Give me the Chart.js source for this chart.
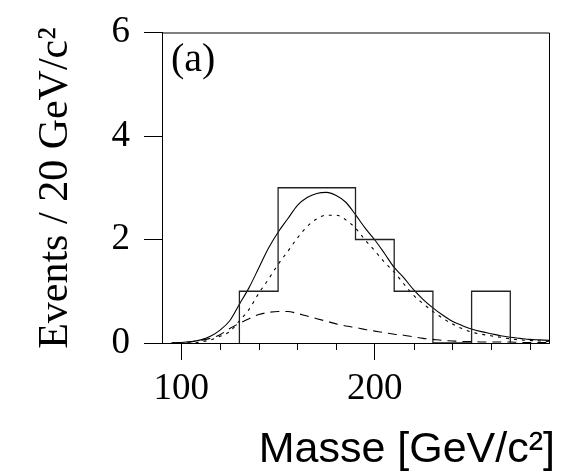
<!DOCTYPE html>
<html lang="en">

<head>
    <meta charset="UTF-8">
    <title>Masse</title>
    <script src="https://cdn.jsdelivr.net/npm/chart.js"></script>
    <style>
        html, body {
            margin: 0;
            padding: 0;
            background: #fff;
        }
    </style>
</head>

<body>
    <canvas id="massChart" width="566" height="473"></canvas>

    <script>
        // histogram: bin edges (GeV/c^2) and events per 20 GeV/c^2 bin
        const binEdges = [130, 150, 170, 190, 210, 230, 250, 270];
        const binCounts = [1, 3, 3, 2, 1, 0, 1];

        // fitted curves
        const massPoints = [95, 100, 105, 110, 115, 120, 125, 130, 135, 140, 145, 150, 155, 160, 165, 170, 175, 180, 185, 190,
            195, 200, 205, 210, 215, 220, 225, 230, 235, 240, 245, 250, 255, 260, 265, 270, 275, 280, 285, 290];
        const totalFit = [0.00, 0.01, 0.03, 0.06, 0.13, 0.25, 0.43, 0.75, 1.07, 1.45, 1.83, 2.14, 2.40, 2.66, 2.81, 2.89, 2.91, 2.85, 2.72, 2.48,
            2.22, 1.99, 1.73, 1.46, 1.26, 1.03, 0.84, 0.68, 0.54, 0.42, 0.34, 0.27, 0.22, 0.18, 0.14, 0.11, 0.09, 0.07, 0.06, 0.05];
        const signalFit = [0.00, 0.00, 0.00, 0.02, 0.06, 0.13, 0.22, 0.43, 0.65, 0.96, 1.23, 1.52, 1.77, 2.03, 2.25, 2.40, 2.47, 2.47, 2.38, 2.22,
            1.99, 1.78, 1.56, 1.37, 1.14, 0.92, 0.76, 0.61, 0.48, 0.37, 0.28, 0.21, 0.17, 0.14, 0.11, 0.08, 0.06, 0.05, 0.04, 0.03];
        const backgroundFit = [0.00, 0.01, 0.02, 0.05, 0.09, 0.16, 0.28, 0.38, 0.47, 0.55, 0.59, 0.61, 0.61, 0.57, 0.52, 0.47, 0.42, 0.37, 0.33, 0.30,
            0.26, 0.23, 0.20, 0.17, 0.15, 0.12, 0.09, 0.07, 0.05, 0.04, 0.03, 0.03, 0.02, 0.02, 0.02, 0.02, 0.01, 0.01, 0.01, 0.01];

        // axis ticks
        const xTickValues = [100, 120, 140, 160, 180, 200, 220, 240, 260, 280];
        const xMajorTicks = [100, 200];
        const yTickValues = [0, 2, 4, 6];

        const yTitle = 'Events / 20 GeV/c\u00b2';
        const xTitle = 'Masse [GeV/c\u00b2]';
        const panelLabel = '(a)';

        // step outline of the histogram
        const histOutline = [{ x: binEdges[0], y: 0 }];
        binCounts.forEach((c, i) => {
            histOutline.push({ x: binEdges[i], y: c });
            histOutline.push({ x: binEdges[i + 1], y: c });
        });
        histOutline.push({ x: binEdges[binEdges.length - 1], y: 0 });

        const toPoints = ys => massPoints.map((m, i) => ({ x: m, y: ys[i] }));

        // frame, minor ticks and the free texts
        const frameAndText = {
            id: 'frameAndText',
            afterDraw(chart) {
                const { ctx, chartArea: a, scales: { x } } = chart;
                ctx.save();
                ctx.strokeStyle = '#000';
                ctx.lineWidth = 1;
                ctx.beginPath();
                ctx.moveTo(a.left, a.top + 0.5);
                ctx.lineTo(a.right + 0.5, a.top + 0.5);
                ctx.lineTo(a.right + 0.5, a.bottom);
                xTickValues.filter(v => !xMajorTicks.includes(v)).forEach(v => {
                    const px = Math.round(x.getPixelForValue(v)) + 0.5;
                    ctx.moveTo(px, a.bottom);
                    ctx.lineTo(px, a.bottom + 7);
                });
                ctx.stroke();

                ctx.fillStyle = '#000';
                ctx.textBaseline = 'alphabetic';

                ctx.font = '40px "Liberation Serif"';
                ctx.textAlign = 'left';
                ctx.fillText(panelLabel, a.left + 9, 71);

                ctx.font = '43px "Liberation Sans"';
                ctx.textAlign = 'right';
                ctx.fillText(xTitle, 555, 462);

                ctx.translate(67, 188);
                ctx.rotate(-Math.PI / 2);
                ctx.font = '42px "Liberation Serif"';
                ctx.textAlign = 'center';
                ctx.fillText(yTitle, 0, 0);
                ctx.restore();
            }
        };

        const tickFont = { family: 'Liberation Serif', size: 37, lineHeight: 1 };

        new Chart(document.getElementById('massChart'), {
            type: 'line',
            data: {
                datasets: [{
                    label: 'Data',
                    data: histOutline,
                    borderColor: '#222',
                    borderWidth: 1.3,
                    pointRadius: 0,
                    tension: 0
                }, {
                    label: 'Total',
                    data: toPoints(totalFit),
                    borderColor: '#000',
                    borderWidth: 1.1,
                    pointRadius: 0,
                    cubicInterpolationMode: 'monotone'
                }, {
                    label: 'Signal',
                    data: toPoints(signalFit),
                    borderColor: '#000',
                    borderWidth: 1.1,
                    borderDash: [3, 5],
                    pointRadius: 0,
                    cubicInterpolationMode: 'monotone'
                }, {
                    label: 'Background',
                    data: toPoints(backgroundFit),
                    borderColor: '#000',
                    borderWidth: 1.1,
                    borderDash: [9, 6],
                    pointRadius: 0,
                    cubicInterpolationMode: 'monotone'
                }]
            },
            options: {
                responsive: false,
                animation: false,
                devicePixelRatio: 1,
                layout: { padding: { top: 23, right: 17, left: 0, bottom: 0 } },
                plugins: {
                    legend: { display: false },
                    tooltip: { enabled: false }
                },
                scales: {
                    x: {
                        type: 'linear',
                        min: 90,
                        max: 290,
                        afterBuildTicks: axis => { axis.ticks = xTickValues.map(v => ({ value: v })); },
                        afterFit: axis => { axis.height = 130; },
                        border: { display: true, color: '#000', width: 1 },
                        grid: {
                            drawOnChartArea: false,
                            tickLength: 17,
                            tickColor: c => (c.tick && xMajorTicks.includes(c.tick.value)) ? '#000' : 'rgba(0,0,0,0)'
                        },
                        ticks: {
                            autoSkip: false,
                            maxRotation: 0,
                            padding: 11,
                            color: '#000',
                            font: tickFont,
                            callback: v => xMajorTicks.includes(v) ? String(v) : ''
                        }
                    },
                    y: {
                        min: 0,
                        max: 6,
                        afterBuildTicks: axis => { axis.ticks = yTickValues.map(v => ({ value: v })); },
                        afterFit: axis => { axis.width = 162; },
                        border: { display: true, color: '#000', width: 1 },
                        grid: {
                            drawOnChartArea: false,
                            tickLength: 18,
                            tickColor: '#000'
                        },
                        ticks: {
                            padding: 14,
                            color: '#000',
                            font: tickFont
                        }
                    }
                }
            },
            plugins: [frameAndText]
        });
    </script>
</body>

</html>
